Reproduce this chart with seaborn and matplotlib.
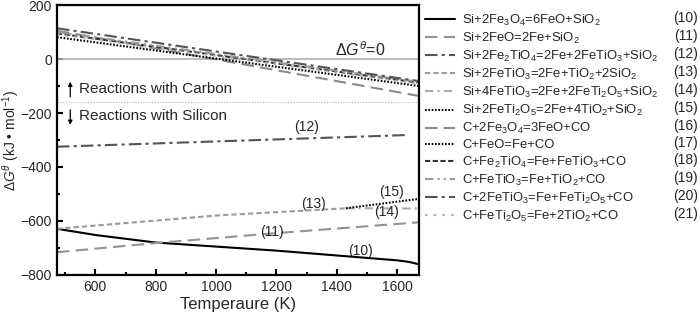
import matplotlib
matplotlib.use("Agg")
import matplotlib.pyplot as plt
import numpy as np
import pandas as pd
import seaborn as sns
from matplotlib.ticker import MultipleLocator

# data, T in K, dG in kJ/mol
rxn_ids = ["(10)", "(11)", "(12)", "(13)", "(14)", "(15)",
           "(16)", "(17)", "(18)", "(19)", "(20)", "(21)"]
rxn_labels = [
    "Si+2Fe$_3$O$_4$=6FeO+SiO$_2$",
    "Si+2FeO=2Fe+SiO$_2$",
    "Si+2Fe$_2$TiO$_4$=2Fe+2FeTiO$_3$+SiO$_2$",
    "Si+2FeTiO$_3$=2Fe+TiO$_2$+2SiO$_2$",
    "Si+4FeTiO$_3$=2Fe+2FeTi$_2$O$_5$+SiO$_2$",
    "Si+2FeTi$_2$O$_5$=2Fe+4TiO$_2$+SiO$_2$",
    "C+2Fe$_3$O$_4$=3FeO+CO",
    "C+FeO=Fe+CO",
    "C+Fe$_2$TiO$_4$=Fe+FeTiO$_3$+CO",
    "C+FeTiO$_3$=Fe+TiO$_2$+CO",
    "C+2FeTiO$_3$=Fe+FeTi$_2$O$_5$+CO",
    "C+FeTi$_2$O$_5$=Fe+2TiO$_2$+CO",
]
T = {
    "(10)": [473, 600, 800, 1000, 1200, 1400, 1600, 1640, 1673],
    "(11)": [473, 800, 1200, 1673],
    "(12)": [473, 1625],
    "(13)": [473, 1000, 1430],
    "(14)": [1430, 1673],
    "(15)": [1430, 1673],
    "(16)": [473, 1673],
    "(17)": [473, 1673],
    "(18)": [473, 1673],
    "(19)": [473, 1673],
    "(20)": [473, 1673],
    "(21)": [473, 1673],
}
dG = {
    "(10)": [-629, -652, -680, -695, -710, -728, -746, -752, -761],
    "(11)": [-716, -682, -645, -605],
    "(12)": [-325, -282],
    "(13)": [-629, -580, -553],
    "(14)": [-553, -554],
    "(15)": [-553, -518],
    "(16)": [105, -137],
    "(17)": [81, -100],
    "(18)": [95, -88],
    "(19)": [100, -85],
    "(20)": [114, -82],
    "(21)": [92, -92],
}
curve_labels = {"(10)": (1478, -710), "(11)": (1184, -640), "(12)": (1300, -253),
                "(13)": (1323, -536), "(14)": (1563, -565), "(15)": (1580, -491)}
zero_line = 0
divide_line = -160

colors = {"(10)": "black", "(11)": "#939393", "(12)": "#555555", "(13)": "#9a9a9a",
          "(14)": "#ababab", "(15)": "black", "(16)": "#8a8a8a", "(17)": "black",
          "(18)": "#333333", "(19)": "#9a9a9a", "(20)": "#555555", "(21)": "#b0b0b0"}
dashes = {"(10)": "", "(11)": (6, 3), "(12)": (6, 2, 1.5, 2), "(13)": (2.5, 1.5),
          "(14)": (4, 2, 1, 2), "(15)": (0.8, 0.8), "(16)": (6, 3), "(17)": (0.8, 0.8),
          "(18)": (2.5, 1.2), "(19)": (4, 2, 1, 2, 1, 2), "(20)": (6, 2, 1.5, 2),
          "(21)": (1.2, 3)}

rows = []
for rid, lab in zip(rxn_ids, rxn_labels):
    for t, g in zip(T[rid], dG[rid]):
        rows.append({"rxn": lab, "T": t, "dG": g, "rid": rid})
df = pd.DataFrame(rows)

sns.set_style("ticks")
plt.rcParams["font.family"] = ["Liberation Sans", "DejaVu Sans"]
plt.rcParams["mathtext.fontset"] = "custom"
plt.rcParams["mathtext.rm"] = "Liberation Sans"
plt.rcParams["mathtext.it"] = "Liberation Sans:italic"
plt.rcParams["mathtext.default"] = "rm"

fig = plt.figure(figsize=(7, 3.16), dpi=100, facecolor="white")
ax = fig.add_axes([0.0814, 0.13, 0.5176, 0.854])

ax.axhline(zero_line, color="#b0b0b0", lw=1.2, zorder=1)
ax.axhline(divide_line, color="#b8b8b8", lw=0.8, ls=(0, (1, 1.5)), zorder=1)

sns.lineplot(data=df, x="T", y="dG", hue="rxn", style="rxn",
             hue_order=rxn_labels, style_order=rxn_labels,
             palette={l: colors[r] for r, l in zip(rxn_ids, rxn_labels)},
             dashes={l: dashes[r] for r, l in zip(rxn_ids, rxn_labels)},
             lw=1.5, ax=ax, estimator=None, sort=False)

ax.set_xlim(473, 1673)
ax.set_ylim(-800, 200)
ax.xaxis.set_major_locator(MultipleLocator(200))
ax.xaxis.set_minor_locator(MultipleLocator(100))
ax.yaxis.set_major_locator(MultipleLocator(200))
ax.yaxis.set_minor_locator(MultipleLocator(100))
ax.tick_params(which="both", direction="in", labelsize=10, width=1.5, color="black")
ax.tick_params(which="major", length=4)
ax.tick_params(which="minor", length=2.5)
for s in ax.spines.values():
    s.set_linewidth(1.6)
    s.set_color("black")

ax.set_xlabel("Temperaure (K)", fontsize=12, labelpad=2)
ax.set_ylabel("Δ$\\it{G}^{\\theta}$ (kJ • mol$^{-1}$)", fontsize=10)
ax.yaxis.set_label_coords(-0.098, 0.5)

for rid, (tx, ty) in curve_labels.items():
    ax.text(tx, ty, rid, fontsize=10, ha="center", va="center")
ax.text(1395, 33, "Δ$\\it{G}^{\\theta}$=0", fontsize=11.5, ha="left", va="center")

# arrows for the two reaction groups
ax.annotate("", xy=(517, -84), xytext=(517, -140),
            arrowprops=dict(arrowstyle="-|>", lw=0.9, color="black",
                            mutation_scale=6, shrinkA=0, shrinkB=0))
ax.annotate("", xy=(517, -244), xytext=(517, -188),
            arrowprops=dict(arrowstyle="-|>", lw=0.9, color="black",
                            mutation_scale=6, shrinkA=0, shrinkB=0))
ax.text(547, -110, "Reactions with Carbon", fontsize=11, ha="left", va="center")
ax.text(547, -212, "Reactions with Silicon", fontsize=11, ha="left", va="center")

leg = ax.legend(loc="upper left", bbox_to_anchor=(0.6071, 0.96),
                bbox_transform=fig.transFigure, frameon=False, fontsize=9.4,
                handlelength=2.3, handletextpad=0.55, labelspacing=0.23,
                borderaxespad=0, borderpad=0)

fig.canvas.draw()
inv = fig.transFigure.inverted()
for txt, rid in zip(leg.get_texts(), rxn_ids):
    bb = txt.get_window_extent()
    y = inv.transform((0, (bb.y0 + bb.y1) / 2))[1]
    fig.text(0.997, y + 0.008, rid, fontsize=10, ha="right", va="center")

fig.savefig("out.png", dpi=100, facecolor="white")
